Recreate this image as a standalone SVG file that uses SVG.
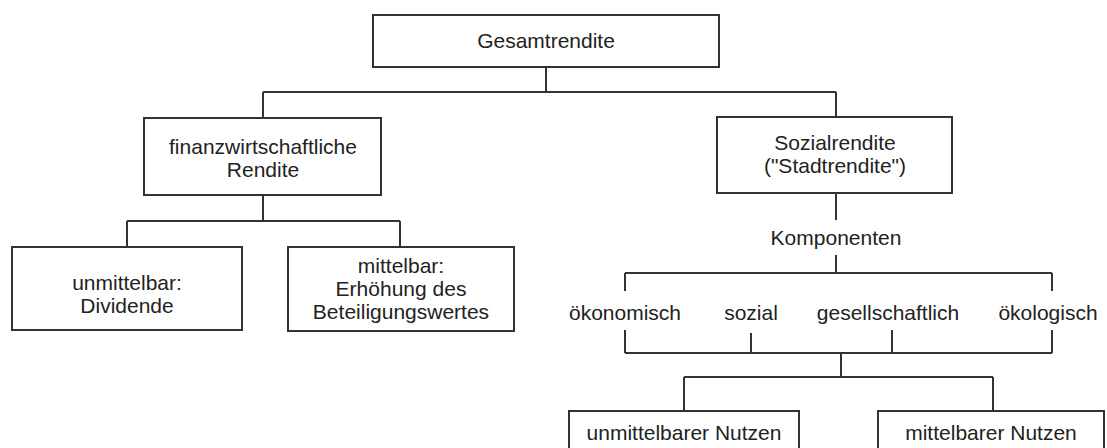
<svg xmlns="http://www.w3.org/2000/svg" width="1107" height="448" viewBox="0 0 1107 448">
<style>
.box{fill:#fff;stroke:#333;stroke-width:2}
.ln{fill:none;stroke:#333;stroke-width:2}
text{font-family:"Liberation Sans",Arial,sans-serif;font-size:21px;fill:#222;text-anchor:middle}
</style>
<rect width="1107" height="448" fill="#fff"/>
<g id="connectors" class="ln">
<path d="M546 67V92M263 92H836M263 92V118M836 92V117"/>
<path d="M263 195V221M127 221H400M127 221V247M400 221V247"/>
<path d="M836 193V220M836 255V273M625 273H1052M625 273V291M1052 273V291"/>
<path d="M625 330V353M751 333V353M892 330V353M1052 330V353M625 353H1052"/>
<path d="M841 353V377M684 377H993M684 377V411M993 377V411"/>
</g>
<g id="gesamtrendite"><rect class="box" x="373" y="15" width="346" height="52"/><text x="546" y="48">Gesamtrendite</text></g>
<g id="finanz"><rect class="box" x="144" y="118" width="237" height="77"/><text x="263" y="154">finanzwirtschaftliche</text><text x="263" y="177">Rendite</text></g>
<g id="sozial"><rect class="box" x="717" y="117" width="235" height="76"/><text x="835" y="150">Sozialrendite</text><text x="835" y="173">("Stadtrendite")</text></g>
<g id="unmittelbar"><rect class="box" x="12" y="247" width="230" height="83"/><text x="127" y="290">unmittelbar:</text><text x="127" y="313">Dividende</text></g>
<g id="mittelbar"><rect class="box" x="288" y="247" width="226" height="84"/><text x="401" y="273">mittelbar:</text><text x="401" y="296">Erhöhung des</text><text x="401" y="319">Beteiligungswertes</text></g>
<g id="komponenten"><text x="836" y="245">Komponenten</text></g>
<g id="oekonomisch"><text x="625" y="320">ökonomisch</text></g>
<g id="sozial-k"><text x="751" y="320">sozial</text></g>
<g id="gesellschaftlich"><text x="888" y="320">gesellschaftlich</text></g>
<g id="oekologisch"><text x="1048" y="320">ökologisch</text></g>
<g id="unmittelbarer-nutzen"><rect class="box" x="569" y="411" width="230" height="45"/><text x="684" y="440">unmittelbarer Nutzen</text></g>
<g id="mittelbarer-nutzen"><rect class="box" x="878" y="411" width="226" height="45"/><text x="991" y="440">mittelbarer Nutzen</text></g>
</svg>
